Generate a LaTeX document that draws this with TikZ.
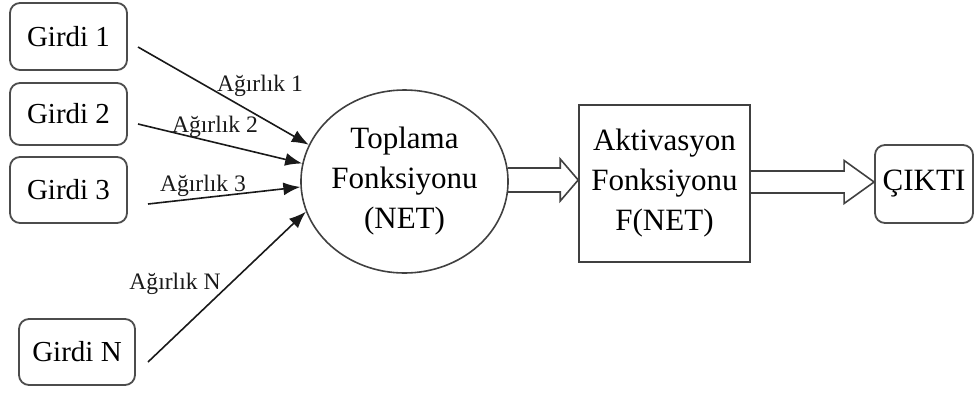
\documentclass[tikz,border=0pt]{standalone}
\usepackage{fontspec}
\setmainfont{Liberation Serif}
\usetikzlibrary{shapes.geometric,calc,arrows.meta}
\begin{document}
\begin{tikzpicture}[x=0.5pt,y=-0.5pt,
  inbox/.style={draw=black!70,line width=0.9pt,rounded corners=5pt,font=\fontsize{14.5}{17}\selectfont,inner sep=0pt},
  wlabel/.style={font=\fontsize{11.8}{14}\selectfont,inner sep=0pt,text=black!90},
  conn/.style={draw=black!90,line width=0.8pt,-{Latex[length=8.5pt,width=6.5pt]}},
  hollow/.style={draw=black!75,line width=0.8pt,line join=miter},
  big/.style={font=\fontsize{15.5}{20}\selectfont,align=center,inner sep=0pt}]
\useasboundingbox (0,0) rectangle (974,392);

% input boxes
\node[inbox,minimum width=58.5pt,minimum height=33.5pt] (g1) at (68.5,36.5) {Girdi 1};
\node[inbox,minimum width=58.5pt,minimum height=31pt] (g2) at (68.5,114) {Girdi 2};
\node[inbox,minimum width=58.5pt,minimum height=33pt] (g3) at (68.5,190) {Girdi 3};
\node[inbox,minimum width=58pt,minimum height=33pt] (gn) at (77,352) {Girdi N};

% summation, activation and output
\node[ellipse,draw=black!75,line width=0.8pt,minimum width=102.5pt,minimum height=91.5pt,big] (sum) at (404.5,181.5) {Toplama\\Fonksiyonu\\(NET)};
\node[rectangle,draw=black!75,line width=0.8pt,minimum width=85.5pt,minimum height=78.5pt,big] (act) at (664.5,183.5) {Aktivasyon\\Fonksiyonu\\F(NET)};
\node[inbox,minimum width=49pt,minimum height=39pt,font=\fontsize{15.5}{18}\selectfont] (out) at (924,184) {ÇIKTI};

% free ends of the weighted connections
\coordinate (s1) at (138,47);
\coordinate (s2) at (138,124);
\coordinate (s3) at (148,204);
\coordinate (sn) at (148,362);

\draw[conn] (s1) -- (sum.159);
\draw[conn] (s2) -- (sum.170.5);
\draw[conn] (s3) -- (sum.183);
\draw[conn] (sn) -- (sum.197);

\node[wlabel] (w1) at (260,86) {Ağırlık 1};
\node[wlabel] (w2) at (215,127) {Ağırlık 2};
\node[wlabel] (w3) at (203,186) {Ağırlık 3};
\node[wlabel] (wn) at (175,284) {Ağırlık N};

% hollow block arrows
\draw[hollow] let \p1=($(sum.east)+(-1,-1.5)$), \p2=(act.west) in
  (\x1,\y1+6pt) -- (\x2-9pt,\y1+6pt) -- (\x2-9pt,\y1+10.5pt) -- (\x2,\y1)
  -- (\x2-9pt,\y1-10.5pt) -- (\x2-9pt,\y1-6pt) -- (\x1,\y1-6pt);
\draw[hollow] let \p1=($(act.east)+(0,-1.5)$), \p2=(out.west) in
  (\x1,\y1+5.5pt) -- (\x2-15pt,\y1+5.5pt) -- (\x2-15pt,\y1+10.75pt) -- (\x2,\y1)
  -- (\x2-15pt,\y1-10.75pt) -- (\x2-15pt,\y1-5.5pt) -- (\x1,\y1-5.5pt);
\end{tikzpicture}
\end{document}
